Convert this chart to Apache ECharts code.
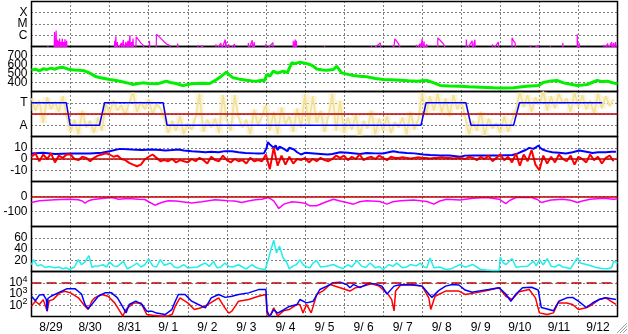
<!DOCTYPE html>
<html><head><meta charset="utf-8">
<script src="https://cdn.jsdelivr.net/npm/echarts@6/dist/echarts.min.js"></script>
<style>html,body{margin:0;padding:0;background:#fff;overflow:hidden}#c{width:628px;height:334px}</style>
</head><body><div id="c"></div><script>
// ---- data (time in days since 8/29 00:00) ----
const dayLabels = ['8/29','8/30','8/31','9/ 1','9/ 2','9/ 3','9/ 4','9/ 5','9/ 6','9/ 7','9/ 8','9/ 9','9/10','9/11','9/12'];

const xrayT = [0,0.42,0.42,0.43,0.58,0.59,0.6,0.61,0.62,0.63,0.64,0.66,0.67,0.69,0.7,0.72,0.73,0.75,0.76,0.79,0.8,0.82,0.83,0.86,0.87,0.9,0.91,
 2.12,2.13,2.14,2.16,2.17,2.2,2.21,2.3,2.31,2.35,2.36,2.42,2.43,2.47,2.48,2.52,2.53,2.56,2.57,2.6,2.61,2.67,2.68,2.72,2.76,2.8,2.87,2.88,
 3.01,3.02,3.03,3.19,3.2,3.26,3.33,3.4,3.47,3.54,3.55,3.73,3.74,3.76,
 4.26,4.26,4.27,4.38,4.39,4.72,4.72,4.73,4.85,4.86,4.96,4.97,4.98,4.99,5.05,5.06,5.2,5.21,
 5.55,5.55,5.56,5.65,5.66,5.7,5.71,6.0,6.0,6.01,6.18,6.19,6.7,6.7,6.71,6.75,6.76,6.78,6.79,
 7.5,7.5,7.51,8.7,8.7,8.71,8.93,8.94,9.26,9.26,9.27,9.3,9.34,9.4,9.45,9.46,
 9.85,9.85,9.86,9.95,9.96,10.0,10.01,10.05,10.06,10.12,10.13,10.4,10.4,10.45,10.5,10.55,10.6,10.61,
 11.13,11.13,11.14,11.28,11.29,11.35,11.36,11.8,11.8,11.81,11.95,11.96,12.3,12.3,12.34,12.38,12.39,
 12.77,12.77,12.78,12.98,12.99,13.28,13.28,13.29,13.6,13.6,13.61,13.97,13.97,13.98,14.02,14.03,
 14.65,14.65,14.66,14.75,14.76,14.85,14.86,14.9,14.91,14.95,14.97,14.98,15];
const xrayF = [5e-8,5e-8,1.1e-7,5e-8,5e-8,1.9e-6,5e-8,2.5e-7,5e-8,2.6e-6,5e-8,4e-7,5e-8,3.2e-7,5e-8,5e-7,5e-8,2.5e-7,5e-8,5e-7,5e-8,2.5e-7,5e-8,4.5e-7,5e-8,3.2e-7,5e-8,
 5e-8,3.2e-7,5e-8,8.3e-7,5e-8,2.5e-7,5e-8,2e-7,5e-8,4e-7,5e-8,2.5e-7,5e-8,3.2e-7,5e-8,1e-6,5e-8,2.5e-7,5e-8,5e-7,5e-8,5e-8,7.2e-7,5e-7,3.2e-7,2e-7,1.26e-7,5e-8,
 5e-8,3.2e-7,5e-8,5e-8,1.2e-6,7.9e-7,4.5e-7,2.5e-7,1.6e-7,1.26e-7,5e-8,5e-8,1.8e-7,5e-8,
 5e-8,1.26e-7,5e-8,1.26e-7,5e-8,5e-8,1.6e-7,5e-8,2e-7,5e-8,4.2e-7,5e-8,2.5e-7,5e-8,1.6e-7,5e-8,1.6e-7,5e-8,
 5e-8,2e-7,5e-8,3.6e-7,5e-8,2.5e-7,5e-8,5e-8,1.8e-7,5e-8,2.2e-7,5e-8,5e-8,3.2e-7,5e-8,4.2e-7,5e-8,3.2e-7,5e-8,
 5e-8,1.1e-7,5e-8,5e-8,1.1e-7,5e-8,2.1e-7,5e-8,5e-8,1.26e-7,5e-8,4.9e-7,3.2e-7,1.6e-7,1.26e-7,5e-8,
 5e-8,1.4e-7,5e-8,1.8e-7,5e-8,4.9e-7,5e-8,2.8e-7,5e-8,1.6e-7,5e-8,5e-8,5.9e-7,4e-7,2.5e-7,1.6e-7,1.1e-7,5e-8,
 5e-8,4.2e-7,5e-8,3.2e-7,5e-8,4e-7,5e-8,5e-8,1.6e-7,5e-8,2.5e-7,5e-8,5e-8,5.9e-7,3.2e-7,2e-7,5e-8,
 5e-8,1.26e-7,5e-8,1.26e-7,5e-8,5e-8,1.1e-7,5e-8,5e-8,2.1e-7,5e-8,5e-8,1.2e-6,5e-8,2e-7,5e-8,
 5e-8,1.4e-7,5e-8,1.8e-7,5e-8,2.5e-7,5e-8,2e-7,5e-8,2.5e-7,2.5e-7,5e-8,5e-8];

const speedT = [0,0.1,0.2,0.3,0.4,0.5,0.6,0.7,0.8,0.9,0.97,1.1,1.23,1.35,1.44,1.55,1.66,1.8,2.0,2.13,2.26,2.4,2.5,2.6,2.7,2.85,3.0,3.2,3.3,3.45,3.55,3.71,3.8,3.88,4.0,4.1,4.22,4.4,4.56,4.65,4.74,4.86,4.99,5.05,5.16,5.3,5.5,5.65,5.76,5.9,5.97,6.02,6.1,6.19,6.3,6.44,6.55,6.6,6.66,6.75,6.87,7.0,7.13,7.22,7.3,7.45,7.56,7.73,7.81,7.94,8.1,8.24,8.4,8.58,8.8,9.01,9.2,9.44,9.65,9.86,10.0,10.12,10.3,10.46,10.7,10.97,11.2,11.49,11.83,12.1,12.34,12.5,12.68,12.98,13.1,13.15,13.3,13.45,13.62,13.8,13.97,14.1,14.22,14.35,14.48,14.6,14.74,14.85,15.0];
const speedV = [537,548,530,552,545,560,548,565,570,555,544,540,537,530,515,490,463,450,433,425,415,400,390,378,385,396,390,385,395,415,400,389,375,367,378,385,389,392,389,410,433,470,515,490,452,440,426,418,415,425,422,489,470,526,505,526,510,500,619,610,626,615,600,580,550,540,537,544,581,507,490,478,470,463,445,433,430,426,420,415,420,422,395,367,362,359,352,348,341,340,341,350,359,367,400,415,418,422,396,380,367,372,378,400,422,410,415,400,385];

const PHI_STEP = 0.1;
const phiV = [1.4,0.3,1.2,-0.8,1.5,0.4,1.1,0.2,1.6,
 -0.2,-1.6,-0.5,-1.8,0.3,-1.2,-0.6,-1.7,-0.3,-1.5,
 0.9,0.1,1.2,0.3,0.8,-0.1,1.0,1.9,0.2,1.1,0.4,1.3,0.0,0.9,0.5,
 -0.4,-1.7,-0.6,-1.5,-0.2,-1.8,-0.8,-1.4,-0.3,1.8,-1.6,-0.5,-1.2,-0.4,-1.7,1.7,-0.6,-1.5,1.7,-0.3,-1.2,-0.5,-1.8,0.4,-1.0,-0.2,
 0.8,-1.5,0.2,-1.8,0.6,-0.9,-0.2,-1.6,0.5,-1.2,1.8,-1.0,1.6,-0.8,0.3,-1.6,-0.2,
 1.8,-1.5,1.2,-1.7,-0.3,-1.4,-0.1,-1.9,-0.6,-1.3,0.3,-1.8,-0.4,-1.5,-0.2,-1.7,-0.7,-1.2,-0.3,-1.8,0.2,-1.4,-0.5,
 1.9,-0.1,1.6,0.3,1.8,0.1,1.4,-0.2,1.7,0.4,1.2,
 -0.3,-1.8,-0.6,-1.5,0.2,-1.9,-0.4,-1.3,-0.8,-1.7,-0.2,-1.6,-0.5,
 0.4,1.9,0.6,1.7,0.2,1.5,0.8,2.0,0.3,1.6,0.5,1.8,0.9,1.4,0.2,1.9,0.6,1.7,0.4,1.2,0.0,1.8,0.5,1.6,0.7,1.3];

const sectorT = [0,0.89,0.99,1.74,1.87,3.37,3.47,9.97,10.1,11.12,11.25,12.34,12.49,14.61];
const sectorV = [1,1,-1,-1,1,1,-1,-1,1,1,-1,-1,1,1];

const btT = [0,0.3,0.6,0.97,1.2,1.49,1.8,2.0,2.26,2.56,2.82,3.08,3.3,3.42,3.6,3.76,3.9,4.1,4.3,4.45,4.6,4.79,4.95,5.13,5.3,5.47,5.7,5.81,5.95,6.02,6.05,6.1,6.15,6.2,6.25,6.3,6.35,6.46,6.55,6.6,6.72,6.8,6.9,7.0,7.24,7.4,7.58,7.7,7.9,8.1,8.41,8.58,8.8,9.0,9.26,9.4,9.6,9.8,10.03,10.2,10.46,10.7,10.97,11.1,11.3,11.65,11.97,12.31,12.45,12.57,12.65,12.74,12.85,12.98,13.02,13.08,13.2,13.33,13.5,13.68,13.85,14.02,14.2,14.36,14.5,14.7,14.85,14.96];
const btV = [4.9,5.5,4.5,4.9,5.0,4.9,5.5,6.9,9.0,8.4,7.9,8.4,8.0,7.6,8.0,8.4,7.5,6.9,6.5,6.0,6.5,6.0,7.0,6.9,6.0,5.4,5.0,4.9,5.0,10,14.9,13,14.3,9.9,12,8,11,9.0,7,10,8.4,6,4.0,5.5,4.9,4.5,4.0,4.5,6.0,5.5,4.5,5.4,5.0,4.9,6.9,6.0,5.4,5.0,4.0,3.5,3.1,3.1,2.0,3.0,3.1,3.1,3.1,3.5,5,6.9,8,9.9,9,12,10,8.4,7,6.0,5.5,4.9,6,7.6,6.5,5.4,6,6.0,6.5,6.5];

const BZ_STEP = 0.1;
const bzV = [2,5,-2,4,0,5,-3,3,1, 4,4, 0,-1, 2,1, -2,1, 3,4, 5,4,2,3,0,-1, -3.4,-5,-6.4,-5, -0.4,2,4,1,-2, -1,-2,0,-3,-1,-2,
 -3,0,-2,1,-1,-4,2,-1,-2,3,-1,-3,0,-2,-1,-4,1,-2,-1,-2,
 4,-9,10,-6,3,-5,2,-4,0, -1,1,-3,0,-2,1,-1,-2,0,3,
 1,3,-1,2,0,4,-1,1,2,0,3,1,-1,2,1,
 1,1.5,1,0.5,1,1.5,1,1,0.5,1,1,1.5,1,1,0.5,1,
 1,0,2,1,-1,2,0,3,-2,1,4,-1,2, -3,5,-6,4,-2,8,-5, -10,
 3,-4,2,-3,4,0,-2,3,-5,2,0,-3,4,-1,2,-4,1,3,-2];

const dstT = [0,0.2,0.4,0.6,0.94,1.2,1.3,1.37,1.45,1.54,1.8,2.06,2.23,2.48,2.74,2.9,3.0,3.16,3.33,3.5,3.7,3.85,4.1,4.36,4.7,5.04,5.2,5.38,5.55,5.73,5.9,6.0,6.07,6.12,6.2,6.33,6.46,6.67,6.87,7.0,7.13,7.3,7.5,7.73,7.9,8.07,8.24,8.4,8.58,8.92,9.1,9.25,9.44,9.78,10.12,10.3,10.45,10.63,10.97,11.3,11.65,11.97,12.14,12.25,12.4,12.8,12.95,13.05,13.3,13.6,13.8,13.97,14.1,14.3,14.64,14.9,15];
const dstV = [-40,-29,-25,-22,-18,-22,-30,-44,-30,-22,-13,-7,-18,-13,-18,-20,-35,-58,-40,-29,-30,-35,-44,-35,-22,-29,-30,-40,-30,-22,-18,-10,-7,-15,-29,-80,-51,-35,-40,-45,-62,-62,-40,-18,-30,-40,-51,-35,-29,-33,-51,-35,-29,-24,-33,-51,-30,-18,-24,-11,-7,-18,-47,-25,-7,-7,-20,-40,-24,-18,-25,-40,-30,-18,-11,-18,-15];

const denT = [0,0.05,0.15,0.25,0.35,0.45,0.6,0.7,0.8,0.9,0.97,1.1,1.2,1.28,1.37,1.47,1.55,1.62,1.71,1.83,1.92,2.0,2.1,2.2,2.35,2.45,2.55,2.7,2.8,2.9,3.0,3.1,3.2,3.3,3.4,3.56,3.65,3.75,3.9,4.0,4.1,4.25,4.35,4.45,4.55,4.66,4.75,4.85,4.95,5.05,5.15,5.3,5.4,5.5,5.64,5.75,5.85,5.98,6.06,6.13,6.2,6.27,6.35,6.44,6.52,6.6,6.7,6.78,6.87,6.95,7.05,7.13,7.2,7.3,7.4,7.55,7.73,7.85,7.98,8.1,8.2,8.33,8.45,8.55,8.67,8.8,8.9,9.0,9.15,9.25,9.35,9.5,9.6,9.7,9.85,9.95,10.05,10.12,10.2,10.3,10.45,10.6,10.75,10.97,11.1,11.3,11.4,11.5,11.65,11.8,11.97,12.0,12.08,12.15,12.3,12.4,12.55,12.7,12.85,12.92,13.0,13.1,13.2,13.3,13.4,13.5,13.6,13.7,13.8,13.97,14.05,14.2,14.36,14.45,14.6,14.75,14.85,14.9,15.0];
const denV = [12,21,10,12,7,9,6.5,8,5,6.5,3.5,8,21,12,17,28,7,10,9.5,12,8,17,10,9,18,5,8,15,8,12,22.5,10,8,21,11,15,8,6.5,12,6,7,8,12,15,9,18,6.5,8,15,9,8,12,8,4.7,12,7,4.7,3.6,21,39,55.7,33,45,24,18,4.7,10,12,21,12,8,6.5,15,19.5,8,9.5,12.4,8,5.3,12,8,19.5,9.5,7,15,6.5,9,3.5,12.4,9,15,6.5,8,12.4,10,15,8,6.5,24,6.5,8,3.5,5,12.4,7.7,12.4,8,3.5,2.5,1.8,1.8,25.5,15,12.4,23,7.7,9,9.5,18.4,10,21,12,23,9.5,8,12.4,8,6.5,5,24.3,15,12.4,9.5,7,5.3,5,7,18.4,15];

const fluxBlueT = [0,0.1,0.2,0.3,0.38,0.4,0.42,0.5,0.68,0.9,1.12,1.28,1.37,1.45,1.55,1.71,1.88,2.05,2.2,2.35,2.42,2.5,2.67,2.83,2.95,3.08,3.2,3.42,3.59,3.68,3.76,3.93,4.1,4.27,4.45,4.6,4.79,4.96,5.13,5.3,5.56,5.81,6.0,6.03,6.1,6.2,6.3,6.46,6.6,6.8,6.87,7.04,7.21,7.38,7.56,7.73,7.9,8.07,8.15,8.24,8.41,8.62,8.8,8.97,9.1,9.28,9.4,9.66,9.83,10.0,10.17,10.25,10.42,10.6,10.77,10.94,11.1,11.28,11.5,11.7,11.97,12.14,12.27,12.4,12.57,12.8,12.97,13.05,13.2,13.36,13.5,13.7,13.85,14.0,14.2,14.36,14.53,14.7,14.96];
const fluxBlueV = [631,251,794,912,316,30,398,631,1259,2884,2884,1000,117,50,126,631,1259,1259,457,59,21,117,229,117,30,30,20,15,40,229,912,912,229,117,59,457,912,501,631,912,1259,2455,2455,30,10,40,20,40,79,117,324,162,229,2512,5012,10000,11220,7079,3631,7079,3631,8900,7943,5012,1000,5012,6310,7079,6310,5012,1000,501,1995,5012,7079,6310,2239,1413,1995,2512,3631,1000,229,1000,3631,3981,2239,63,46,32,229,457,501,229,63,158,324,457,324];
const fluxRedT = [0,0.1,0.2,0.3,0.4,0.45,0.55,0.72,0.85,1.0,1.2,1.37,1.45,1.55,1.62,1.79,1.96,2.13,2.26,2.34,2.4,2.46,2.62,2.8,2.95,3.1,3.3,3.5,3.6,3.68,3.8,4.0,4.17,4.34,4.52,4.79,4.95,5.05,5.13,5.3,5.56,5.81,6.0,6.03,6.1,6.2,6.3,6.45,6.6,6.8,6.87,6.95,7.04,7.16,7.3,7.47,7.64,7.9,8.15,8.3,8.5,8.7,8.9,9.13,9.22,9.28,9.32,9.45,9.7,10.0,10.17,10.22,10.33,10.6,10.94,11.1,11.36,11.6,11.97,12.14,12.3,12.48,12.74,12.9,13.0,13.2,13.36,13.48,13.7,13.85,14.0,14.2,14.36,14.53,14.7,14.96];
const fluxRedV = [83,229,117,316,30,251,316,1259,1738,1259,457,83,42,251,457,912,631,162,30,11,32,59,162,162,15,13,11,11,16,83,457,162,42,59,117,457,59,20,30,229,324,631,912,16,10,59,11,32,42,117,117,21,117,21,912,1995,7079,3631,1820,3631,5012,7943,5012,912,316,32,1820,6310,6310,5012,457,42,631,1820,1820,912,1259,1820,3631,631,324,1585,2512,457,21,15,21,158,158,117,42,59,117,324,457,117];

// ---- layout ----
const L = 31.5, R = 10.5, H = 45;
const TOPS = [1.5, 46.5, 91.5, 136.5, 181.5, 226.5, 271.5];
const FONT = 'Liberation Sans, Arial, sans-serif';
const DOT = {color:'#000', type:[1,3], width:1};
const zip = (t, v) => t.map((x, i) => [x, v[i]]);
const stepData = (v, s) => v.map((y, i) => [i * s, y]);

const grids = TOPS.map(t => ({left:L, right:R, top:t, height:H, show:true, borderColor:'#000', borderWidth:1.5, backgroundColor:'rgba(0,0,0,0)', outerBoundsMode:'none', containLabel:false}));
const xAxes = TOPS.map((t, i) => ({type:'value', gridIndex:i, min:0, max:15, interval:1, position:'bottom',
  axisLine:{show:false}, axisTick:{show:false}, axisLabel:{show:false}, splitLine:{show:true, lineStyle:DOT}}));
xAxes.push({type:'category', gridIndex:6, position:'bottom', data:dayLabels, boundaryGap:true,
  axisLine:{show:false}, axisTick:{show:false}, splitLine:{show:false},
  axisLabel:{show:true, interval:0, color:'#000', fontSize:12, fontFamily:FONT, margin:5}});

const lab = (extra) => Object.assign({color:'#000', fontSize:12, fontFamily:FONT, margin:4, showMinLabel:true, showMaxLabel:true}, extra);
const baseY = (i, extra) => Object.assign({gridIndex:i, axisLine:{show:false}, axisTick:{show:false}, splitLine:{show:true, lineStyle:DOT}}, extra);
const yAxes = [
  baseY(0, {type:'log', logBase:10, min:1e-7, max:1e-3, axisLabel:lab({formatter:v => {const e = Math.round(Math.log10(v)); return e === -6 ? 'C' : e === -5 ? 'M' : e === -4 ? 'X' : '';}})}),
  baseY(1, {type:'value', min:300, max:800, interval:100, axisLabel:lab({formatter:v => (v > 300 && v < 800) ? String(v) : ''})}),
  baseY(2, {type:'value', min:-2, max:2, interval:1, axisLabel:lab({formatter:v => v === 1 ? 'T' : v === -1 ? 'A' : ''})}),
  baseY(3, {type:'value', min:-20, max:20, interval:10, axisLabel:lab({formatter:v => Math.abs(v) < 20 ? String(v) : ''})}),
  baseY(4, {type:'value', min:-200, max:100, interval:100, axisLabel:lab({formatter:v => (v === 0 || v === -100) ? String(v) : ''})}),
  baseY(5, {type:'value', min:0, max:80, interval:20, axisLabel:lab({formatter:v => (v > 0 && v < 80) ? String(v) : ''})}),
  baseY(6, {type:'log', logBase:10, min:10, max:1e5, axisLabel:lab({
    formatter:v => {const e = Math.round(Math.log10(v)); return (e >= 2 && e <= 4) ? '10{s|' + e + '}' : '';},
    rich:{s:{fontSize:9, fontFamily:FONT, color:'#000', padding:[0,0,7,0]}}})})
];

const zeroLine = (y, color, type, w) => ({silent:true, symbol:'none', label:{show:false}, animation:false,
  lineStyle:{color:color, type:type, width:w}, data:[{yAxis:y}]});
const line = (i, data, color, w, extra) => Object.assign({type:'line', xAxisIndex:i, yAxisIndex:i, data:data,
  symbol:'none', showSymbol:false, clip:true, animation:false, silent:true,
  lineStyle:{color:color, width:w}, itemStyle:{color:color}}, extra || {});

// pale band covering the spread of the phi scatter between neighbouring samples
const phiBand = {
  type:'custom', xAxisIndex:2, yAxisIndex:2, silent:true, animation:false, clip:true, z:1,
  data: phiV.map((v, i) => [i * PHI_STEP, v, i + 1 < phiV.length ? phiV[i + 1] : v]),
  encode:{x:0, y:[1, 2]},
  renderItem:(params, api) => {
    const a = api.coord([api.value(0), api.value(1)]);
    const b = api.coord([api.value(0) + PHI_STEP, api.value(2)]);
    return {type:'rect', shape:{x:a[0], y:Math.min(a[1], b[1]), width:b[0] - a[0], height:Math.abs(b[1] - a[1])},
      style:{fill:'#f7ebb8', opacity:0.5}};
  }
};

const series = [
  line(0, zip(xrayT, xrayF), '#ff00ff', 1.2),
  line(1, zip(speedT, speedV), '#00f000', 3),
  phiBand,
  line(2, stepData(phiV, PHI_STEP), '#f3e196', 1.6, {z:2, markLine:zeroLine(0, '#c00000', 'solid', 1.5)}),
  line(2, zip(sectorT, sectorV), '#0000ff', 1.5, {z:4}),
  line(3, zip(btT, btV), '#0000ff', 2, {markLine:zeroLine(0, '#c00000', 'solid', 1.5)}),
  line(3, stepData(bzV, BZ_STEP), '#ff0000', 2, {z:4}),
  line(4, zip(dstT, dstV), '#ff00ff', 1.5, {markLine:zeroLine(0, '#c00000', 'solid', 1.5)}),
  line(5, zip(denT, denV), '#22eeee', 1.5),
  line(6, zip(fluxRedT, fluxRedV), '#ff0000', 1.5, {markLine:zeroLine(10000, '#c00000', [10,5], 1.5)}),
  line(6, zip(fluxBlueT, fluxBlueV), '#0000ff', 1.5, {z:3})
];

const chart = echarts.init(document.getElementById('c'), null, {renderer:'canvas'});
chart.setOption({
  animation:false,
  backgroundColor:'#fff',
  textStyle:{fontFamily:FONT},
  grid:grids, xAxis:xAxes, yAxis:yAxes, series:series,
  graphic:[
    {type:'line', shape:{x1:617,y1:333,x2:627,y2:323}, style:{stroke:'#a0a0a0', lineWidth:1}},
    {type:'line', shape:{x1:620,y1:333,x2:627,y2:326}, style:{stroke:'#a0a0a0', lineWidth:1}},
    {type:'line', shape:{x1:623,y1:333,x2:627,y2:329}, style:{stroke:'#a0a0a0', lineWidth:1}}
  ]
});
</script></body></html>
